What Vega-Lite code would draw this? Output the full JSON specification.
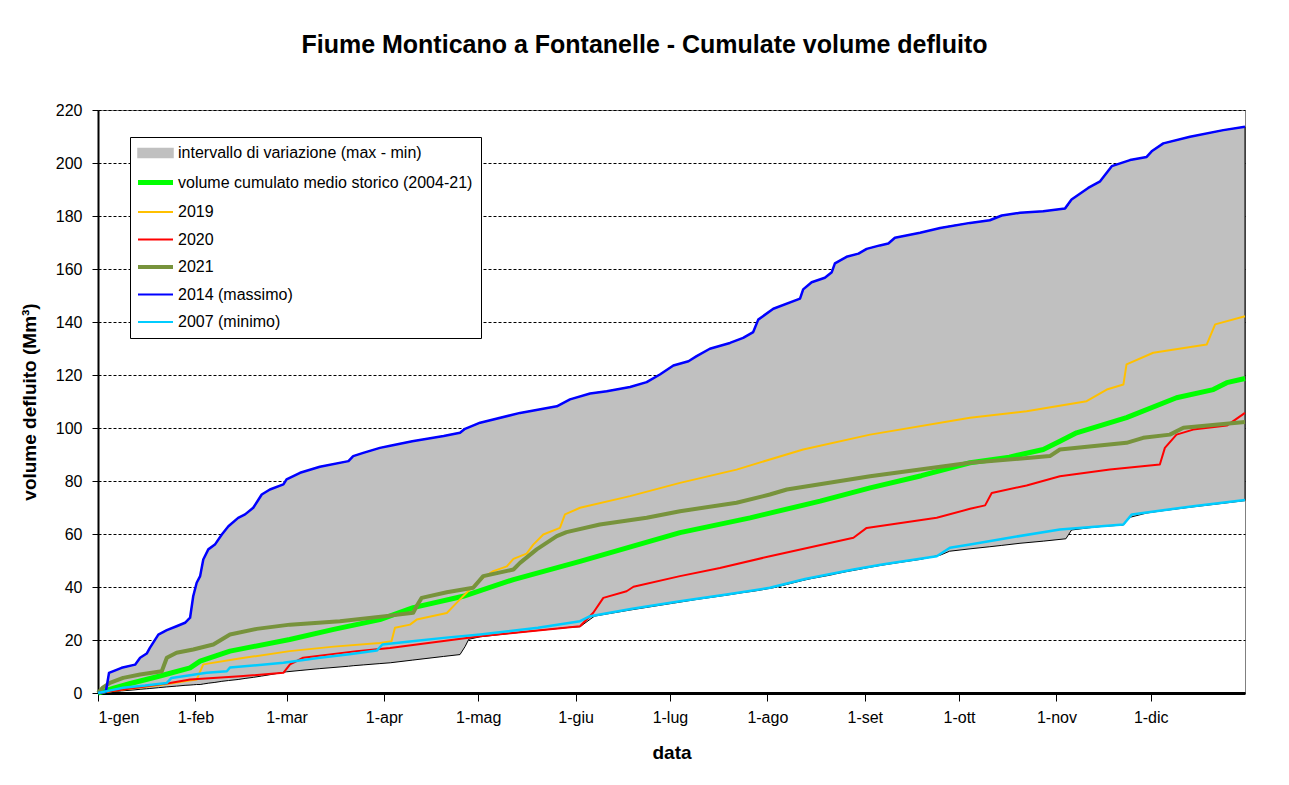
{
  "$schema": "https://vega.github.io/schema/vega-lite/v6.json",
  "width": 1147,
  "height": 583,
  "autosize": {"type": "none"},
  "padding": {"left": 98, "top": 110, "right": 44, "bottom": 92},
  "background": "white",
  "title": {
    "text": "Fiume Monticano a Fontanelle - Cumulate volume defluito",
    "font": "Liberation Sans", "fontSize": 25, "fontWeight": "bold", "color": "black",
    "anchor": "middle", "offset": 44, "dx": -27
  },
  "config": {
    "view": {"stroke": "#808080", "strokeWidth": 1},
    "axis": {
      "labelFont": "Liberation Sans", "labelFontSize": 16, "labelColor": "black",
      "titleFont": "Liberation Sans", "titleFontSize": 19, "titleFontWeight": "bold", "titleColor": "black",
      "domainColor": "black", "tickColor": "black", "zindex": 1
    }
  },
  "datasets": {
    "env": [
      {"d":0,"v":0,"v2":0},{"d":2.5,"v":0.2,"v2":0.5},{"d":3.5,"v":0.3,"v2":7.6},{"d":7.5,"v":0.8,"v2":9.5},
      {"d":11.8,"v":1.2,"v2":10.7},{"d":13.4,"v":1.4,"v2":13.3},{"d":15.5,"v":1.6,"v2":14.9},{"d":16.5,"v":1.7,"v2":17},
      {"d":19.2,"v":2.0,"v2":22},{"d":21.9,"v":2.3,"v2":23.7},{"d":25,"v":2.6,"v2":25.2},{"d":27.7,"v":2.9,"v2":26.5},
      {"d":29.3,"v":3.0,"v2":28.4},{"d":30.3,"v":3.1,"v2":36.5},{"d":31.4,"v":3.2,"v2":41.6},{"d":32.5,"v":3.2,"v2":44.1},
      {"d":33.5,"v":3.4,"v2":50.4},{"d":35.1,"v":3.7,"v2":54.2},{"d":37.2,"v":4.0,"v2":56},{"d":39.4,"v":4.4,"v2":59.8},
      {"d":41.5,"v":4.7,"v2":62.9},{"d":44.6,"v":5.1,"v2":66.1},{"d":46.8,"v":5.5,"v2":67.4},{"d":49.4,"v":5.9,"v2":69.9},
      {"d":52.1,"v":6.4,"v2":74.9},{"d":54.7,"v":6.9,"v2":76.8},{"d":59,"v":7.8,"v2":78.7},{"d":60,"v":8.0,"v2":80.6},
      {"d":64.3,"v":8.5,"v2":83.1},{"d":70.6,"v":9.2,"v2":85.4},{"d":79.7,"v":10.1,"v2":87.5},{"d":81.2,"v":10.3,"v2":89.4},
      {"d":84.4,"v":10.6,"v2":90.6},{"d":89.7,"v":11.1,"v2":92.5},{"d":93,"v":11.4,"v2":93.3},{"d":100,"v":12.4,"v2":95},
      {"d":110,"v":13.8,"v2":97},{"d":115.2,"v":14.5,"v2":98.2},{"d":116.8,"v":17.5,"v2":99.7},{"d":118,"v":20.3,"v2":100.2},
      {"d":121.6,"v":21.2,"v2":102},{"d":134.3,"v":22.9,"v2":105.7},{"d":146,"v":24.3,"v2":108.2},{"d":150.2,"v":24.8,"v2":110.8},
      {"d":153.4,"v":25.0,"v2":111.9},{"d":156.6,"v":27.8,"v2":113},{"d":158,"v":29.0,"v2":113.3},{"d":161.9,"v":29.8,"v2":113.9},
      {"d":169.3,"v":31.3,"v2":115.5},{"d":174.6,"v":32.3,"v2":117.3},{"d":178.8,"v":33.1,"v2":120.2},{"d":183.1,"v":33.9,"v2":123.6},
      {"d":187.9,"v":34.8,"v2":125.2},{"d":190.5,"v":35.3,"v2":127.1},{"d":194.7,"v":36.0,"v2":129.9},{"d":201.1,"v":37.1,"v2":132.1},
      {"d":205.3,"v":37.9,"v2":134},{"d":208.5,"v":38.4,"v2":136.2},{"d":210.1,"v":38.7,"v2":140.9},{"d":214.9,"v":39.7,"v2":145},
      {"d":223.4,"v":42.2,"v2":148.8},{"d":224.4,"v":42.5,"v2":152.3},{"d":227.1,"v":43.2,"v2":155},{"d":231.3,"v":44.1,"v2":156.7},
      {"d":233.5,"v":44.6,"v2":158.8},{"d":234.5,"v":44.9,"v2":162.1},{"d":238.2,"v":45.8,"v2":164.6},{"d":242,"v":46.6,"v2":165.8},
      {"d":244.6,"v":47.2,"v2":167.6},{"d":248.8,"v":48.1,"v2":168.9},{"d":251.5,"v":48.6,"v2":169.6},{"d":253.6,"v":49.0,"v2":171.8},
      {"d":261.6,"v":50.4,"v2":173.7},{"d":268,"v":52.0,"v2":175.5},{"d":271,"v":53.5,"v2":176.2},{"d":277.5,"v":54.4,"v2":177.4},
      {"d":283.8,"v":55.2,"v2":178.4},{"d":287.6,"v":55.7,"v2":180.2},{"d":293.4,"v":56.5,"v2":181.2},{"d":300.8,"v":57.3,"v2":181.8},
      {"d":308,"v":58.2,"v2":182.8},{"d":309.8,"v":61.5,"v2":186.2},{"d":315.1,"v":62.3,"v2":190.6},{"d":318.9,"v":62.8,"v2":193.1},
      {"d":322.6,"v":63.1,"v2":198.8},{"d":326.3,"v":63.4,"v2":200.3},{"d":328.4,"v":66.3,"v2":201.1},{"d":333.7,"v":67.9,"v2":202.3},
      {"d":335.3,"v":68.2,"v2":204.4},{"d":339,"v":68.8,"v2":207.4},{"d":347.5,"v":70.1,"v2":209.9},{"d":358.1,"v":71.6,"v2":212.4},
      {"d":365,"v":72.6,"v2":213.7}
    ],
    "series": [
      {"s":"volume cumulato medio storico (2004-21)","d":0,"v":0},{"s":"volume cumulato medio storico (2004-21)","d":5,"v":1.8},
      {"s":"volume cumulato medio storico (2004-21)","d":10,"v":3.5},{"s":"volume cumulato medio storico (2004-21)","d":20,"v":6.5},
      {"s":"volume cumulato medio storico (2004-21)","d":29.3,"v":9.5},{"s":"volume cumulato medio storico (2004-21)","d":32.5,"v":12},
      {"s":"volume cumulato medio storico (2004-21)","d":42,"v":15.8},{"s":"volume cumulato medio storico (2004-21)","d":61,"v":20.2},
      {"s":"volume cumulato medio storico (2004-21)","d":75,"v":24},{"s":"volume cumulato medio storico (2004-21)","d":89.7,"v":27.7},
      {"s":"volume cumulato medio storico (2004-21)","d":100.3,"v":32.2},{"s":"volume cumulato medio storico (2004-21)","d":116.2,"v":36.5},
      {"s":"volume cumulato medio storico (2004-21)","d":132.2,"v":42.8},{"s":"volume cumulato medio storico (2004-21)","d":153.4,"v":49.7},
      {"s":"volume cumulato medio storico (2004-21)","d":170,"v":55.3},{"s":"volume cumulato medio storico (2004-21)","d":185.2,"v":60.5},
      {"s":"volume cumulato medio storico (2004-21)","d":207.5,"v":66.1},{"s":"volume cumulato medio storico (2004-21)","d":229.8,"v":72.4},
      {"s":"volume cumulato medio storico (2004-21)","d":245.7,"v":77.4},{"s":"volume cumulato medio storico (2004-21)","d":262,"v":82},
      {"s":"volume cumulato medio storico (2004-21)","d":277.5,"v":86.9},{"s":"volume cumulato medio storico (2004-21)","d":290,"v":89},
      {"s":"volume cumulato medio storico (2004-21)","d":300.8,"v":91.9},{"s":"volume cumulato medio storico (2004-21)","d":306.1,"v":95},
      {"s":"volume cumulato medio storico (2004-21)","d":311.4,"v":98.2},{"s":"volume cumulato medio storico (2004-21)","d":327.3,"v":103.9},
      {"s":"volume cumulato medio storico (2004-21)","d":343.2,"v":111.4},{"s":"volume cumulato medio storico (2004-21)","d":354.9,"v":114.5},
      {"s":"volume cumulato medio storico (2004-21)","d":359.2,"v":117.1},{"s":"volume cumulato medio storico (2004-21)","d":365,"v":118.7},

      {"s":"2019","d":0,"v":0},{"s":"2019","d":10,"v":1.6},{"s":"2019","d":20,"v":3},{"s":"2019","d":28,"v":4.5},
      {"s":"2019","d":31.4,"v":5.1},{"s":"2019","d":33.5,"v":10.8},{"s":"2019","d":45,"v":13},{"s":"2019","d":61,"v":15.8},
      {"s":"2019","d":75,"v":17.5},{"s":"2019","d":89.7,"v":18.9},{"s":"2019","d":93.4,"v":19.5},{"s":"2019","d":94.5,"v":24.6},
      {"s":"2019","d":99.3,"v":25.8},{"s":"2019","d":101.4,"v":27.7},{"s":"2019","d":111,"v":30.2},{"s":"2019","d":114.1,"v":34},
      {"s":"2019","d":117.3,"v":37.8},{"s":"2019","d":121.6,"v":42.8},{"s":"2019","d":125.8,"v":46},{"s":"2019","d":130.1,"v":47.8},
      {"s":"2019","d":132.2,"v":50.6},{"s":"2019","d":136.4,"v":52.6},{"s":"2019","d":138.5,"v":56},{"s":"2019","d":141.7,"v":59.8},
      {"s":"2019","d":147,"v":62.3},{"s":"2019","d":148.6,"v":67.4},{"s":"2019","d":153.4,"v":69.9},{"s":"2019","d":169.3,"v":74.3},
      {"s":"2019","d":185.2,"v":79.3},{"s":"2019","d":203.2,"v":84.3},{"s":"2019","d":224.4,"v":91.9},{"s":"2019","d":245.7,"v":97.5},
      {"s":"2019","d":277.5,"v":103.9},{"s":"2019","d":295.5,"v":106.3},{"s":"2019","d":314.6,"v":110.1},{"s":"2019","d":321,"v":114.5},
      {"s":"2019","d":326.3,"v":116.4},{"s":"2019","d":327.3,"v":124},{"s":"2019","d":335.8,"v":128.4},{"s":"2019","d":352.8,"v":131.5},
      {"s":"2019","d":355.5,"v":139.1},{"s":"2019","d":365,"v":142.2},

      {"s":"2020","d":0,"v":0},{"s":"2020","d":8,"v":1.3},{"s":"2020","d":22.9,"v":3.8},{"s":"2020","d":29.3,"v":5.1},
      {"s":"2020","d":45.2,"v":6.3},{"s":"2020","d":59,"v":7.6},{"s":"2020","d":61.1,"v":10.8},{"s":"2020","d":65.3,"v":13.3},
      {"s":"2020","d":82.3,"v":15.8},{"s":"2020","d":92.9,"v":17},{"s":"2020","d":121.6,"v":21.4},{"s":"2020","d":153.4,"v":25.2},
      {"s":"2020","d":157.6,"v":30.3},{"s":"2020","d":160.8,"v":35.9},{"s":"2020","d":168.2,"v":38.4},{"s":"2020","d":170.4,"v":40.1},
      {"s":"2020","d":185.2,"v":44.1},{"s":"2020","d":197.9,"v":47.2},{"s":"2020","d":213.8,"v":51.6},{"s":"2020","d":240.4,"v":58.6},
      {"s":"2020","d":244.6,"v":62.3},{"s":"2020","d":266.9,"v":66.1},{"s":"2020","d":277.5,"v":69.5},{"s":"2020","d":282.3,"v":70.8},
      {"s":"2020","d":284.4,"v":75.5},{"s":"2020","d":295.5,"v":78.3},{"s":"2020","d":306.1,"v":81.8},{"s":"2020","d":322,"v":84.3},
      {"s":"2020","d":337.9,"v":86.2},{"s":"2020","d":339.5,"v":92.5},{"s":"2020","d":343.2,"v":97.5},{"s":"2020","d":348.5,"v":99.4},
      {"s":"2020","d":359.2,"v":100.9},{"s":"2020","d":365,"v":105.7},

      {"s":"2021","d":0,"v":0},{"s":"2021","d":1.5,"v":2},{"s":"2021","d":3.8,"v":3.8},{"s":"2021","d":8,"v":5.7},
      {"s":"2021","d":13.4,"v":7},{"s":"2021","d":20.3,"v":8.2},{"s":"2021","d":21.9,"v":13.3},{"s":"2021","d":25,"v":15.2},
      {"s":"2021","d":30.3,"v":16.4},{"s":"2021","d":36.7,"v":18.3},{"s":"2021","d":42,"v":22.1},{"s":"2021","d":50.5,"v":24.2},
      {"s":"2021","d":61.1,"v":25.8},{"s":"2021","d":77,"v":27.1},{"s":"2021","d":92.9,"v":29.2},{"s":"2021","d":100.3,"v":30.3},
      {"s":"2021","d":101.5,"v":33},{"s":"2021","d":103,"v":35.9},{"s":"2021","d":111,"v":38},{"s":"2021","d":119.4,"v":39.7},
      {"s":"2021","d":122.6,"v":44.1},{"s":"2021","d":132.2,"v":46.6},{"s":"2021","d":134.3,"v":49.1},{"s":"2021","d":139.6,"v":54.2},
      {"s":"2021","d":146,"v":59.2},{"s":"2021","d":149.1,"v":60.7},{"s":"2021","d":159.7,"v":63.6},{"s":"2021","d":174.6,"v":66.1},
      {"s":"2021","d":185.2,"v":68.6},{"s":"2021","d":203.2,"v":71.8},{"s":"2021","d":213.8,"v":74.9},{"s":"2021","d":219.2,"v":76.8},
      {"s":"2021","d":245.7,"v":81.8},{"s":"2021","d":277.5,"v":86.9},{"s":"2021","d":302.9,"v":89.4},{"s":"2021","d":306.1,"v":91.9},
      {"s":"2021","d":327.3,"v":94.4},{"s":"2021","d":332.6,"v":96.3},{"s":"2021","d":341.1,"v":97.5},{"s":"2021","d":345.4,"v":100.1},
      {"s":"2021","d":365,"v":102.3},

      {"s":"2014 (massimo)","d":0,"v":0},{"s":"2014 (massimo)","d":2.5,"v":0.5},{"s":"2014 (massimo)","d":3.5,"v":7.6},{"s":"2014 (massimo)","d":7.5,"v":9.5},
      {"s":"2014 (massimo)","d":11.8,"v":10.7},{"s":"2014 (massimo)","d":13.4,"v":13.3},{"s":"2014 (massimo)","d":15.5,"v":14.9},{"s":"2014 (massimo)","d":16.5,"v":17},
      {"s":"2014 (massimo)","d":19.2,"v":22},{"s":"2014 (massimo)","d":21.9,"v":23.7},{"s":"2014 (massimo)","d":25,"v":25.2},{"s":"2014 (massimo)","d":27.7,"v":26.5},
      {"s":"2014 (massimo)","d":29.3,"v":28.4},{"s":"2014 (massimo)","d":30.3,"v":36.5},{"s":"2014 (massimo)","d":31.4,"v":41.6},{"s":"2014 (massimo)","d":32.5,"v":44.1},
      {"s":"2014 (massimo)","d":33.5,"v":50.4},{"s":"2014 (massimo)","d":35.1,"v":54.2},{"s":"2014 (massimo)","d":37.2,"v":56},{"s":"2014 (massimo)","d":39.4,"v":59.8},
      {"s":"2014 (massimo)","d":41.5,"v":62.9},{"s":"2014 (massimo)","d":44.6,"v":66.1},{"s":"2014 (massimo)","d":46.8,"v":67.4},{"s":"2014 (massimo)","d":49.4,"v":69.9},
      {"s":"2014 (massimo)","d":52.1,"v":74.9},{"s":"2014 (massimo)","d":54.7,"v":76.8},{"s":"2014 (massimo)","d":59,"v":78.7},{"s":"2014 (massimo)","d":60,"v":80.6},
      {"s":"2014 (massimo)","d":64.3,"v":83.1},{"s":"2014 (massimo)","d":70.6,"v":85.4},{"s":"2014 (massimo)","d":79.7,"v":87.5},{"s":"2014 (massimo)","d":81.2,"v":89.4},
      {"s":"2014 (massimo)","d":84.4,"v":90.6},{"s":"2014 (massimo)","d":89.7,"v":92.5},{"s":"2014 (massimo)","d":93,"v":93.3},{"s":"2014 (massimo)","d":100,"v":95},
      {"s":"2014 (massimo)","d":110,"v":97},{"s":"2014 (massimo)","d":115.2,"v":98.2},{"s":"2014 (massimo)","d":116.8,"v":99.7},{"s":"2014 (massimo)","d":121.6,"v":102},
      {"s":"2014 (massimo)","d":134.3,"v":105.7},{"s":"2014 (massimo)","d":146,"v":108.2},{"s":"2014 (massimo)","d":150.2,"v":110.8},{"s":"2014 (massimo)","d":156.6,"v":113},
      {"s":"2014 (massimo)","d":161.9,"v":113.9},{"s":"2014 (massimo)","d":169.3,"v":115.5},{"s":"2014 (massimo)","d":174.6,"v":117.3},{"s":"2014 (massimo)","d":178.8,"v":120.2},
      {"s":"2014 (massimo)","d":183.1,"v":123.6},{"s":"2014 (massimo)","d":187.9,"v":125.2},{"s":"2014 (massimo)","d":190.5,"v":127.1},{"s":"2014 (massimo)","d":194.7,"v":129.9},
      {"s":"2014 (massimo)","d":201.1,"v":132.1},{"s":"2014 (massimo)","d":205.3,"v":134},{"s":"2014 (massimo)","d":208.5,"v":136.2},{"s":"2014 (massimo)","d":210.1,"v":140.9},
      {"s":"2014 (massimo)","d":214.9,"v":145},{"s":"2014 (massimo)","d":223.4,"v":148.8},{"s":"2014 (massimo)","d":224.4,"v":152.3},{"s":"2014 (massimo)","d":227.1,"v":155},
      {"s":"2014 (massimo)","d":231.3,"v":156.7},{"s":"2014 (massimo)","d":233.5,"v":158.8},{"s":"2014 (massimo)","d":234.5,"v":162.1},{"s":"2014 (massimo)","d":238.2,"v":164.6},
      {"s":"2014 (massimo)","d":242,"v":165.8},{"s":"2014 (massimo)","d":244.6,"v":167.6},{"s":"2014 (massimo)","d":248.8,"v":168.9},{"s":"2014 (massimo)","d":251.5,"v":169.6},
      {"s":"2014 (massimo)","d":253.6,"v":171.8},{"s":"2014 (massimo)","d":261.6,"v":173.7},{"s":"2014 (massimo)","d":268,"v":175.5},{"s":"2014 (massimo)","d":277.5,"v":177.4},
      {"s":"2014 (massimo)","d":283.8,"v":178.4},{"s":"2014 (massimo)","d":287.6,"v":180.2},{"s":"2014 (massimo)","d":293.4,"v":181.2},{"s":"2014 (massimo)","d":300.8,"v":181.8},
      {"s":"2014 (massimo)","d":307.7,"v":182.8},{"s":"2014 (massimo)","d":309.8,"v":186.2},{"s":"2014 (massimo)","d":315.1,"v":190.6},{"s":"2014 (massimo)","d":318.9,"v":193.1},
      {"s":"2014 (massimo)","d":322.6,"v":198.8},{"s":"2014 (massimo)","d":328.4,"v":201.1},{"s":"2014 (massimo)","d":333.7,"v":202.3},{"s":"2014 (massimo)","d":335.3,"v":204.4},
      {"s":"2014 (massimo)","d":339,"v":207.4},{"s":"2014 (massimo)","d":347.5,"v":209.9},{"s":"2014 (massimo)","d":358.1,"v":212.4},{"s":"2014 (massimo)","d":365,"v":213.7},

      {"s":"2007 (minimo)","d":0,"v":0},{"s":"2007 (minimo)","d":4,"v":1},{"s":"2007 (minimo)","d":8,"v":2},{"s":"2007 (minimo)","d":15,"v":2.8},
      {"s":"2007 (minimo)","d":21.9,"v":3.8},{"s":"2007 (minimo)","d":23.4,"v":5.7},{"s":"2007 (minimo)","d":34.6,"v":7.6},{"s":"2007 (minimo)","d":41,"v":8.2},
      {"s":"2007 (minimo)","d":42,"v":9.6},{"s":"2007 (minimo)","d":59,"v":11.4},{"s":"2007 (minimo)","d":70,"v":13.2},{"s":"2007 (minimo)","d":80,"v":14.6},
      {"s":"2007 (minimo)","d":88.7,"v":16},{"s":"2007 (minimo)","d":90.5,"v":18.3},{"s":"2007 (minimo)","d":100,"v":19.5},{"s":"2007 (minimo)","d":110,"v":20.8},
      {"s":"2007 (minimo)","d":121.6,"v":22.1},{"s":"2007 (minimo)","d":140,"v":24.6},{"s":"2007 (minimo)","d":153.4,"v":27.1},{"s":"2007 (minimo)","d":156.6,"v":29},
      {"s":"2007 (minimo)","d":170,"v":31.8},{"s":"2007 (minimo)","d":185.2,"v":34.6},{"s":"2007 (minimo)","d":200,"v":37.2},{"s":"2007 (minimo)","d":213.8,"v":39.7},
      {"s":"2007 (minimo)","d":225,"v":43},{"s":"2007 (minimo)","d":240.4,"v":46.6},{"s":"2007 (minimo)","d":250,"v":48.6},{"s":"2007 (minimo)","d":266.9,"v":51.6},
      {"s":"2007 (minimo)","d":271.1,"v":54.8},{"s":"2007 (minimo)","d":277.5,"v":56},{"s":"2007 (minimo)","d":290,"v":58.6},{"s":"2007 (minimo)","d":306.1,"v":61.7},
      {"s":"2007 (minimo)","d":326.3,"v":63.6},{"s":"2007 (minimo)","d":329,"v":67.4},{"s":"2007 (minimo)","d":348.5,"v":70.5},{"s":"2007 (minimo)","d":365,"v":72.8}
    ]
  },
  "encoding": {
    "x": {
      "field": "d", "type": "quantitative",
      "scale": {"domain": [0, 365], "nice": false, "zero": false},
      "axis": {
        "title": "data", "grid": false,
        "values": [0, 31, 60, 91, 121, 152, 182, 213, 244, 274, 305, 335],
        "labelExpr": "['1-gen','1-feb','1-mar','1-apr','1-mag','1-giu','1-lug','1-ago','1-set','1-ott','1-nov','1-dic'][indexof([0,31,60,91,121,152,182,213,244,274,305,335], datum.value)]",
        "domainWidth": 3, "tickSize": 8, "tickWidth": 1, "labelPadding": 8, "titlePadding": 18
      }
    },
    "y": {
      "field": "v", "type": "quantitative",
      "scale": {"domain": [0, 220], "nice": false},
      "axis": {
        "title": "volume defluito  (Mm³)",
        "values": [0, 20, 40, 60, 80, 100, 120, 140, 160, 180, 200, 220],
        "grid": true, "gridColor": "black", "gridDash": [3, 2], "gridWidth": 1, "gridOpacity": 1,
        "domainWidth": 2, "tickSize": 6, "tickWidth": 1, "labelPadding": 10, "titlePadding": 16
      }
    },
    "color": {
      "field": "s", "type": "nominal",
      "scale": {
        "domain": ["intervallo di variazione (max - min)", "volume cumulato medio storico (2004-21)", "2019", "2020", "2021", "2014 (massimo)", "2007 (minimo)"],
        "range": ["#C0C0C0", "#00FF00", "#FFC000", "#FF0000", "#77933C", "#0000FF", "#00CCFF"]
      },
      "legend": {
        "title": null, "orient": "none", "legendX": 32, "legendY": 27,
        "direction": "vertical", "columns": 1,
        "strokeColor": "black", "fillColor": "white", "padding": 8, "cornerRadius": 0,
        "labelFont": "Liberation Sans", "labelFontSize": 16, "labelColor": "black", "labelLimit": 400,
        "labelOffset": 5, "rowPadding": 11.5, "symbolSize": 1225,
        "encode": {
          "symbols": {
            "update": {
              "x": {"value": 17.5},
              "size": {"value": 1225},
              "shape": {"signal": "datum.value === 'intervallo di variazione (max - min)' ? 'M-1,-0.26H1V0.26H-1Z' : 'M-1,0H1'"},
              "fill": {"signal": "datum.value === 'intervallo di variazione (max - min)' ? '#C0C0C0' : 'transparent'"},
              "stroke": {"signal": "datum.value === 'intervallo di variazione (max - min)' ? 'black' : scale('color', datum.value)"},
              "strokeWidth": {"signal": "datum.value === 'intervallo di variazione (max - min)' ? 1.5 : (datum.value === 'volume cumulato medio storico (2004-21)' ? 5 : (datum.value === '2021' ? 4 : 2))"},
              "opacity": {"value": 1}
            }
          },
          "labels": {
            "update": {
              "x": {"value": 40}
            }
          }
        }
      }
    }
  },
  "layer": [
    {
      "data": {"name": "env"},
      "transform": [{"calculate": "'intervallo di variazione (max - min)'", "as": "s"}],
      "mark": {"type": "area", "stroke": "black", "strokeWidth": 1, "opacity": 1},
      "encoding": {"y2": {"field": "v2"}}
    },
    {
      "data": {"name": "series"},
      "transform": [{"filter": "datum.s === 'volume cumulato medio storico (2004-21)'"}],
      "mark": {"type": "line", "strokeWidth": 5, "strokeJoin": "round"}
    },
    {
      "data": {"name": "series"},
      "transform": [{"filter": "datum.s === '2019'"}],
      "mark": {"type": "line", "strokeWidth": 2, "strokeJoin": "round"}
    },
    {
      "data": {"name": "series"},
      "transform": [{"filter": "datum.s === '2020'"}],
      "mark": {"type": "line", "strokeWidth": 2, "strokeJoin": "round"}
    },
    {
      "data": {"name": "series"},
      "transform": [{"filter": "datum.s === '2021'"}],
      "mark": {"type": "line", "strokeWidth": 4, "strokeJoin": "round"}
    },
    {
      "data": {"name": "series"},
      "transform": [{"filter": "datum.s === '2014 (massimo)'"}],
      "mark": {"type": "line", "strokeWidth": 2.5, "strokeJoin": "round"}
    },
    {
      "data": {"name": "series"},
      "transform": [{"filter": "datum.s === '2007 (minimo)'"}],
      "mark": {"type": "line", "strokeWidth": 2.5, "strokeJoin": "round"}
    }
  ]
}
